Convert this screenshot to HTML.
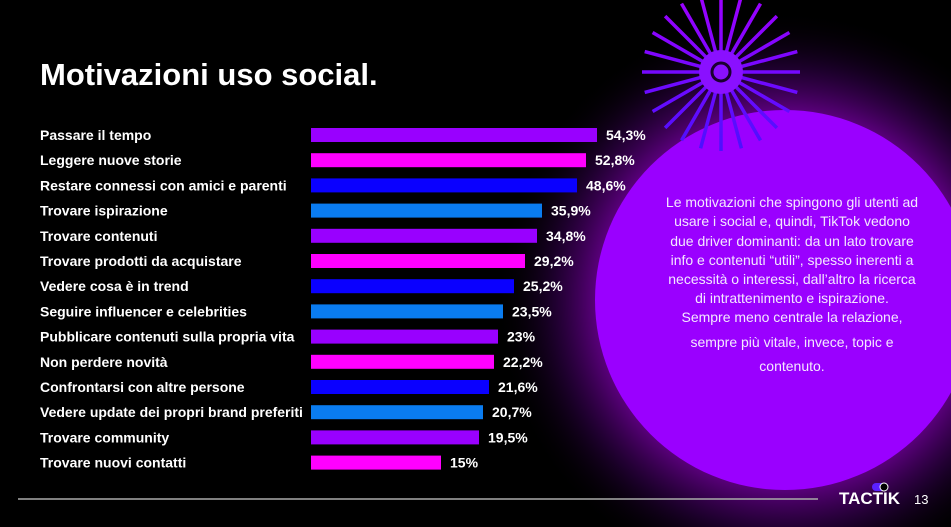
<!DOCTYPE html>
<html><head><meta charset="utf-8"><style>
html,body{margin:0;padding:0;background:#000;width:951px;height:527px;overflow:hidden;}
body{position:relative;font-family:"Liberation Sans",sans-serif;}
svg{display:block;}
</style></head><body>
<svg width="951" height="527" viewBox="0 0 951 527" xmlns="http://www.w3.org/2000/svg" style="position:absolute;left:0;top:0">
<defs>
<radialGradient id="glow" cx="785" cy="300" r="290" gradientUnits="userSpaceOnUse">
<stop offset="0.62" stop-color="#6a0090" stop-opacity="1"/>
<stop offset="0.8" stop-color="#2a0040" stop-opacity="0.7"/>
<stop offset="1" stop-color="#000" stop-opacity="0"/>
</radialGradient>
<linearGradient id="ray" x1="0" y1="-80" x2="0" y2="80" gradientUnits="userSpaceOnUse">
<stop offset="0" stop-color="#a000ff"/><stop offset="1" stop-color="#4a10ff"/>
</linearGradient>
</defs>
<rect width="951" height="527" fill="#000"/>
<circle cx="785" cy="300" r="290" fill="url(#glow)"/>
<circle cx="785" cy="300" r="190" fill="#9a00ff"/>
<g stroke="url(#ray)" stroke-width="3.5" transform="translate(721,72)" id="rays"></g>
<circle cx="721" cy="72" r="9" fill="none" stroke="#1a0030" stroke-width="3"/>
<line x1="18" y1="499" x2="818" y2="499" stroke="#aaa" stroke-width="1.5"/>
<text x="40" y="85" fill="#fff" font-size="31" font-weight="bold">Motivazioni uso social.</text>
<g font-size="14" font-weight="bold" fill="#fff" id="rows"></g>
<g font-size="14" fill="#f4e8ff" text-anchor="middle">
<text x="792" y="207">Le motivazioni che spingono gli utenti ad</text>
<text x="792" y="226">usare i social e, quindi, TikTok vedono</text>
<text x="792" y="246">due driver dominanti: da un lato trovare</text>
<text x="792" y="265">info e contenuti “utili”, spesso inerenti a</text>
<text x="792" y="284">necessità o interessi, dall’altro la ricerca</text>
<text x="792" y="303">di intrattenimento e ispirazione.</text>
<text x="792" y="322">Sempre meno centrale la relazione,</text>
<text x="792" y="347">sempre più vitale, invece, topic e</text>
<text x="792" y="371">contenuto.</text>
</g>
<text x="839" y="504" fill="#fff" font-size="17" font-weight="bold">TACTIK</text>
<rect x="872" y="483" width="16" height="8" rx="4" fill="#5a20ff"/>
<circle cx="884" cy="487" r="4" fill="#000" stroke="#fff" stroke-width="1"/>
<text x="914" y="504" fill="#fff" font-size="13">13</text>
</svg>
<script>
var ns="http://www.w3.org/2000/svg";
var r=document.getElementById("rays");
for(var i=0;i<24;i++){var a=i*Math.PI/12;var l=document.createElementNS(ns,"line");
l.setAttribute("x1",(18*Math.cos(a)).toFixed(1));l.setAttribute("y1",(18*Math.sin(a)).toFixed(1));
l.setAttribute("x2",(79*Math.cos(a)).toFixed(1));l.setAttribute("y2",(79*Math.sin(a)).toFixed(1));r.appendChild(l);}
var rc=document.createElementNS(ns,"circle");rc.setAttribute("r","22");rc.setAttribute("fill","#8a10ff");rc.setAttribute("stroke","none");r.appendChild(rc);
var d=[["Passare il tempo","54,3%",597,"#9900ff"],["Leggere nuove storie","52,8%",586,"#ff00ff"],["Restare connessi con amici e parenti","48,6%",577,"#0a00ff"],["Trovare ispirazione","35,9%",542,"#0a7cf0"],["Trovare contenuti","34,8%",537,"#9900ff"],["Trovare prodotti da acquistare","29,2%",525,"#ff00ff"],["Vedere cosa è in trend","25,2%",514,"#0a00ff"],["Seguire influencer e celebrities","23,5%",503,"#0a7cf0"],["Pubblicare contenuti sulla propria vita","23%",498,"#9900ff"],["Non perdere novità","22,2%",494,"#ff00ff"],["Confrontarsi con altre persone","21,6%",489,"#0a00ff"],["Vedere update dei propri brand preferiti","20,7%",483,"#0a7cf0"],["Trovare community","19,5%",479,"#9900ff"],["Trovare nuovi contatti","15%",441,"#ff00ff"]];
var g=document.getElementById("rows");
d.forEach(function(e,i){var y=135+i*25.2;
var t=document.createElementNS(ns,"text");t.setAttribute("x",40);t.setAttribute("y",(y+5).toFixed(1));t.textContent=e[0];g.appendChild(t);
var b=document.createElementNS(ns,"rect");b.setAttribute("x",311);b.setAttribute("y",(y-7).toFixed(1));b.setAttribute("width",e[2]-311);b.setAttribute("height",14);b.setAttribute("fill",e[3]);g.appendChild(b);
var v=document.createElementNS(ns,"text");v.setAttribute("x",e[2]+9);v.setAttribute("y",(y+5).toFixed(1));v.textContent=e[1];g.appendChild(v);});
</script>
</body></html>
